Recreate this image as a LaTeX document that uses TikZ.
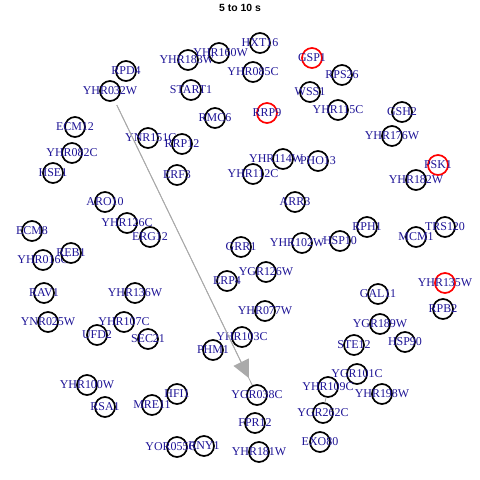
\documentclass[tikz,border=0pt]{standalone}
\usepackage{fontspec}
\setmainfont{Liberation Serif}
\newfontfamily\titlefont{Liberation Sans}
\usepackage{tikz}
\usetikzlibrary{arrows.meta}
\usepackage{xcolor}
\definecolor{labblue}{RGB}{30,20,150}
\definecolor{edgegray}{RGB}{170,170,170}
\newcommand{\genefont}{\fontsize{8.5}{9}\selectfont}

\tikzset{
  gene/.style={circle, draw=black, line width=1.2pt, minimum size=0.5cm, inner sep=0pt},
  hit/.style={gene, draw=red},
  glab/.style={font=\genefont, text=labblue, inner sep=0pt},
  conn/.style={draw=edgegray, line width=0.6pt}
}

\begin{document}
\begin{tikzpicture}[x=0.025cm, y=-0.025cm]

    \useasboundingbox (0,0) rectangle (480,480);

    % Title
    \node[font=\titlefont\bfseries\fontsize{7.4}{8}\selectfont] (title) at (240,8) {5 to 10 s};

    % Upper band
    \node[gene, label={[glab,xshift=-0.03cm]center:YHR183W}] (g1) at (188,60) {};
    \node[gene, label={[glab,xshift=0.04cm]center:YHR160W}] (g2) at (219,53) {};
    \node[gene, label={[glab]center:HXT16}] (g3) at (260,43) {};
    \node[hit,  label={[glab]center:GSP1}] (g4) at (312,58) {};
    \node[gene, label={[glab]center:YHR085C}] (g5) at (253,72) {};
    \node[gene, label={[glab]center:RPS26}] (g6) at (342,75) {};
    \node[gene, label={[glab]center:WSS1}] (g7) at (310,92) {};
    \node[gene, label={[glab]center:RPD4}] (g8) at (126,71) {};
    \node[gene, label={[glab]center:YHR032W}] (g9) at (110,91) {};
    \node[gene, label={[glab]center:START1}] (g10) at (191,90) {};
    \node[gene, label={[glab]center:RMC6}] (g11) at (215,118) {};
    \node[hit,  label={[glab]center:RRP9}] (g12) at (267,113) {};
    \node[gene, label={[glab]center:YHR115C}] (g13) at (338,110) {};
    \node[gene, label={[glab]center:GSH2}] (g14) at (402,112) {};
    \node[gene, label={[glab]center:YHR176W}] (g15) at (392,136) {};

    % Left and centre, upper half
    \node[gene, label={[glab]center:ECM12}] (g16) at (75,127) {};
    \node[gene, label={[glab,xshift=0.07cm]center:YNR151C}] (g17) at (148,138) {};
    \node[gene, label={[glab]center:RRP12}] (g18) at (182,144) {};
    \node[gene, label={[glab]center:YHR082C}] (g19) at (72,153) {};
    \node[gene, label={[glab]center:HSE1}] (g20) at (53,173) {};
    \node[gene, label={[glab]center:ERF3}] (g21) at (177,175) {};
    \node[gene, label={[glab,xshift=-0.17cm]center:YHR114W}] (g22) at (283,159) {};
    \node[gene, label={[glab]center:PHO13}] (g23) at (318,161) {};
    \node[gene, label={[glab]center:YHR112C}] (g24) at (253,174) {};
    \node[hit,  label={[glab]center:PSK1}] (g25) at (438,165) {};
    \node[gene, label={[glab]center:YHR182W}] (g26) at (416,180) {};
    \node[gene, label={[glab]center:ARR3}] (g27) at (295,202) {};
    \node[gene, label={[glab]center:ARO10}] (g28) at (105,202) {};
    \node[gene, label={[glab]center:YHR126C}] (g29) at (127,223) {};
    \node[gene, label={[glab]center:ERG12}] (g30) at (150,237) {};
    \node[gene, label={[glab]center:ECM8}] (g31) at (32,231) {};

    % Middle band
    \node[gene, label={[glab]center:GRR1}] (g32) at (241,247) {};
    \node[gene, label={[glab,xshift=-0.12cm]center:YHR102W}] (g33) at (302,243) {};
    \node[gene, label={[glab]center:HSP10}] (g34) at (340,241) {};
    \node[gene, label={[glab]center:RPH1}] (g35) at (367,227) {};
    \node[gene, label={[glab]center:TRS120}] (g36) at (445,227) {};
    \node[gene, label={[glab]center:MCM1}] (g37) at (416,237) {};
    \node[hit,  label={[glab]center:YHR135W}] (g38) at (445,283) {};
    \node[gene, label={[glab]center:RPB2}] (g39) at (443,309) {};
    \node[gene, label={[glab]center:GAL11}] (g40) at (378,294) {};
    \node[gene, label={[glab]center:YGR189W}] (g41) at (380,324) {};

    % Lower right
    \node[gene, label={[glab]center:STE12}] (g42) at (354,345) {};
    \node[gene, label={[glab]center:HSP90}] (g43) at (405,342) {};
    \node[gene, label={[glab]center:YGR101C}] (g44) at (357,374) {};
    \node[gene, label={[glab]center:YHR109C}] (g45) at (328,387) {};
    \node[gene, label={[glab]center:YHR198W}] (g46) at (382,394) {};
    \node[gene, label={[glab]center:YGR038C}] (g47) at (257,395) {};
    \node[gene, label={[glab]center:YGR262C}] (g48) at (323,413) {};
    \node[gene, label={[glab]center:FPR12}] (g49) at (255,423) {};
    \node[gene, label={[glab]center:EXO80}] (g50) at (320,442) {};
    \node[gene, label={[glab]center:YHR181W}] (g51) at (259,452) {};

    % Left, lower half
    \node[gene, label={[glab]center:YHR016C}] (g52) at (43,260) {};
    \node[gene, label={[glab]center:REB1}] (g53) at (71,253) {};
    \node[gene, label={[glab]center:RAV1}] (g54) at (44,293) {};
    \node[gene, label={[glab]center:YHR136W}] (g55) at (135,293) {};
    \node[gene, label={[glab]center:YNR025W}] (g56) at (48,322) {};
    \node[gene, label={[glab]center:YHR107C}] (g57) at (124,322) {};
    \node[gene, label={[glab]center:UFD2}] (g58) at (97,335) {};
    \node[gene, label={[glab]center:SEC21}] (g59) at (148,339) {};
    \node[gene, label={[glab]center:YGR126W}] (g60) at (266,272) {};
    \node[gene, label={[glab]center:ERP4}] (g61) at (227,281) {};
    \node[gene, label={[glab]center:YHR077W}] (g62) at (265,311) {};
    \node[gene, label={[glab]center:YHR103C}] (g63) at (242,337) {};
    \node[gene, label={[glab]center:PHM1}] (g64) at (213,350) {};
    \node[gene, label={[glab]center:YHR100W}] (g65) at (87,385) {};
    \node[gene, label={[glab]center:RSA1}] (g66) at (105,407) {};
    \node[gene, label={[glab]center:MRE11}] (g67) at (152,405) {};
    \node[gene, label={[glab]center:HFI1}] (g68) at (177,394) {};
    \node[gene, label={[glab,xshift=-0.15cm]center:YOR055C}] (g69) at (177,447) {};
    \node[gene, label={[glab]center:RNY1}] (g70) at (204,446) {};

    % Edges
    \draw[conn] (g45) -- (g48);
    \draw[conn, shorten <=0.12cm] (g9) -- (g47);
    \draw[conn, fill=edgegray, -{Triangle[length=0.44cm, width=0.42cm]},
      shorten <=0.12cm, shorten >=0.2cm] (g9) -- (g47);

  \end{tikzpicture}
\end{document}
